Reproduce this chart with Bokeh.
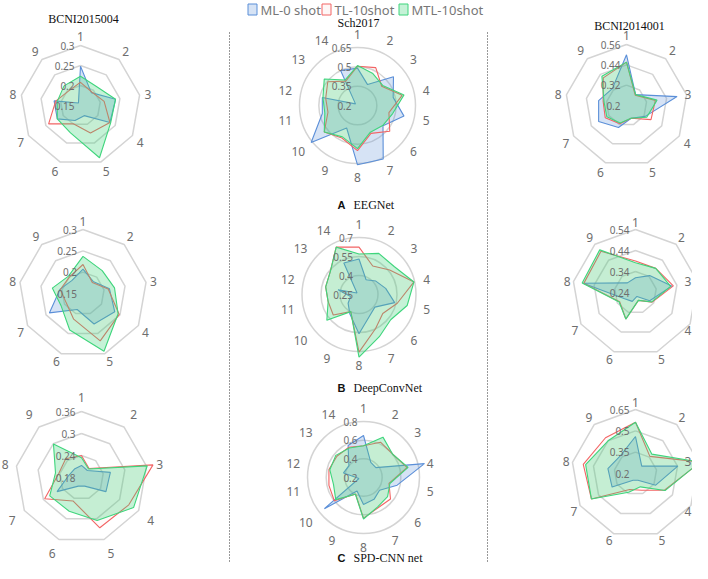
import numpy as np
from bokeh.plotting import figure
from bokeh.models import Range1d
from bokeh.core.properties import value
from bokeh.embed import file_html
from bokeh.resources import INLINE

# ---------------- data ----------------
SERIES = ["ML-0 shot", "TL-10shot", "MTL-10shot"]
DATASETS = ["BCNI2015004", "Sch2017", "BCNI2014001"]
MODEL_LETTERS = ["A", "B", "C"]
MODEL_NAMES = ["EEGNet", "DeepConvNet", "SPD-CNN net"]

AXES_9 = ["1", "2", "3", "4", "5", "6", "7", "8", "9"]
AXES_14 = ["1", "2", "3", "4", "5", "6", "7", "8", "9", "10", "11", "12", "13", "14"]

# EEGNet
ticks_eeg_b15 = [0.15, 0.2, 0.25, 0.3]
eeg_b15_ml = [0.248, 0.192, 0.239, 0.235, 0.177, 0.19, 0.217, 0.217, 0.158]
eeg_b15_tl = [0.208, 0.194, 0.21, 0.235, 0.223, 0.199, 0.242, 0.213, 0.197]
eeg_b15_mtl = [0.223, 0.212, 0.239, 0.237, 0.289, 0.223, 0.217, 0.209, 0.214]

ticks_eeg_sch = [0.2, 0.35, 0.5, 0.65]
eeg_sch_ml = [0.49, 0.38, 0.557, 0.484, 0.57, 0.453, 0.66, 0.66, 0.394, 0.66, 0.48, 0.48, 0.22, 0.5]
eeg_sch_tl = [0.505, 0.526, 0.44, 0.555, 0.45, 0.52, 0.44, 0.55, 0.48, 0.53, 0.435, 0.453, 0.495, 0.41]
eeg_sch_mtl = [0.51, 0.475, 0.45, 0.57, 0.48, 0.45, 0.43, 0.535, 0.47, 0.53, 0.46, 0.475, 0.53, 0.42]

ticks_eeg_b14 = [0.2, 0.32, 0.44, 0.56]
eeg_b14_ml = [0.499, 0.284, 0.503, 0.328, 0.28, 0.338, 0.39, 0.367, 0.33]
eeg_b14_tl = [0.456, 0.28, 0.373, 0.367, 0.28, 0.314, 0.345, 0.34, 0.413]
eeg_b14_mtl = [0.456, 0.284, 0.383, 0.338, 0.28, 0.31, 0.334, 0.335, 0.426]

# DeepConvNet
ticks_dcn_b15 = [0.15, 0.2, 0.25, 0.3]
dcn_b15_ml = [0.207, 0.187, 0.213, 0.236, 0.226, 0.19, 0.241, 0.205, 0.19]
dcn_b15_tl = [0.218, 0.184, 0.21, 0.248, 0.268, 0.214, 0.195, 0.204, 0.2]
dcn_b15_mtl = [0.237, 0.22, 0.225, 0.245, 0.294, 0.241, 0.209, 0.223, 0.203]

ticks_dcn_sch = [0.25, 0.4, 0.55, 0.7]
dcn_sch_ml = [0.53, 0.379, 0.42, 0.466, 0.539, 0.41, 0.44, 0.56, 0.418, 0.36, 0.318, 0.42, 0.27, 0.526]
dcn_sch_tl = [0.624, 0.5, 0.56, 0.695, 0.56, 0.49, 0.55, 0.705, 0.4, 0.51, 0.5, 0.52, 0.54, 0.665]
dcn_sch_mtl = [0.57, 0.61, 0.605, 0.695, 0.64, 0.57, 0.62, 0.745, 0.4, 0.575, 0.5, 0.52, 0.54, 0.665]

ticks_dcn_b14 = [0.24, 0.34, 0.44, 0.54]
dcn_b14_ml = [0.31, 0.345, 0.415, 0.318, 0.26, 0.285, 0.30, 0.493, 0.3]
dcn_b14_tl = [0.39, 0.39, 0.423, 0.332, 0.28, 0.374, 0.327, 0.49, 0.496]
dcn_b14_mtl = [0.382, 0.39, 0.41, 0.33, 0.28, 0.375, 0.33, 0.498, 0.505]

# SPD-CNN net
ticks_spd_b15 = [0.18, 0.24, 0.3, 0.36]
spd_b15_ml = [0.213, 0.205, 0.26, 0.257, 0.205, 0.205, 0.257, 0.215, 0.21]
spd_b15_tl = [0.24, 0.212, 0.378, 0.329, 0.326, 0.248, 0.296, 0.243, 0.247]
spd_b15_mtl = [0.234, 0.21, 0.362, 0.344, 0.305, 0.278, 0.28, 0.252, 0.299]

ticks_spd_sch = [0.2, 0.4, 0.6, 0.8]
spd_sch_ml = [0.65, 0.38, 0.37, 0.87, 0.57, 0.42, 0.46, 0.49, 0.36, 0.736, 0.25, 0.42, 0.4, 0.58]
spd_sch_tl = [0.54, 0.62, 0.6, 0.68, 0.48, 0.57, 0.56, 0.635, 0.396, 0.6, 0.58, 0.58, 0.565, 0.56]
spd_sch_mtl = [0.54, 0.68, 0.6, 0.69, 0.49, 0.53, 0.55, 0.645, 0.4, 0.58, 0.53, 0.57, 0.58, 0.55]

ticks_spd_b14 = [0.2, 0.35, 0.5, 0.65]
spd_b14_ml = [0.46, 0.268, 0.502, 0.364, 0.25, 0.25, 0.39, 0.397, 0.364]
spd_b14_tl = [0.56, 0.357, 0.664, 0.435, 0.325, 0.32, 0.558, 0.573, 0.528]
spd_b14_mtl = [0.56, 0.378, 0.66, 0.44, 0.3, 0.34, 0.558, 0.556, 0.5]

CHARTS = [
    [(AXES_9, ticks_eeg_b15, [eeg_b15_ml, eeg_b15_tl, eeg_b15_mtl]),
     (AXES_14, ticks_eeg_sch, [eeg_sch_ml, eeg_sch_tl, eeg_sch_mtl]),
     (AXES_9, ticks_eeg_b14, [eeg_b14_ml, eeg_b14_tl, eeg_b14_mtl])],
    [(AXES_9, ticks_dcn_b15, [dcn_b15_ml, dcn_b15_tl, dcn_b15_mtl]),
     (AXES_14, ticks_dcn_sch, [dcn_sch_ml, dcn_sch_tl, dcn_sch_mtl]),
     (AXES_9, ticks_dcn_b14, [dcn_b14_ml, dcn_b14_tl, dcn_b14_mtl])],
    [(AXES_9, ticks_spd_b15, [spd_b15_ml, spd_b15_tl, spd_b15_mtl]),
     (AXES_14, ticks_spd_sch, [spd_sch_ml, spd_sch_tl, spd_sch_mtl]),
     (AXES_9, ticks_spd_b14, [spd_b14_ml, spd_b14_tl, spd_b14_mtl])],
]

# ---------------- style / layout ----------------
LINE_COLORS = ["#5b8fd8", "#f26464", "#3fd57c"]
FILL_ALPHA = [0.25, 0.03, 0.3]
RING_COLOR = "#d4d4d4"
TXT = "#6e6e6e"
SANS = value("Noto Sans")
SERIF = value("Liberation Serif")

W, H = 692, 563
# (cx, cy, R, label gap) per chart, in pixels
LAYOUT = [
    [(80, 105, 60, 5), (357, 105, 58, 9), (626, 105, 61, 5)],
    [(82.5, 293, 64, 4), (358.5, 294, 57, 9), (635, 292, 63, 3)],
    [(81, 477, 66, 10), (363, 477, 56, 9), (635, 473, 64, 3)],
]
TITLE_POS = [(83, 18), (358, 22), (629, 25)]
ROW_LABEL_Y = [204, 387, 557]
SEP_X = [229, 487]

p = figure(width=W, height=H, x_range=Range1d(0, W), y_range=Range1d(H, 0),
           output_backend="svg", toolbar_location=None, min_border=0)
p.axis.visible = False
p.grid.visible = False
p.outline_line_color = None
p.background_fill_color = "white"


def radar(cx, cy, R, gap, axes, ticks, series):
    n = len(axes)
    ang = np.deg2rad(90 - 360.0 * np.arange(n) / n)
    ux, uy = np.cos(ang), -np.sin(ang)
    lo, hi = ticks[0], ticks[-1]
    for t in ticks[1:]:
        r = R * (t - lo) / (hi - lo)
        if n > 12:
            p.circle(x=[cx], y=[cy], radius=r, fill_color=None,
                     line_color=RING_COLOR, line_width=1.5)
        else:
            xs = list(cx + r * ux) + [cx + r * ux[0]]
            ys = list(cy + r * uy) + [cy + r * uy[0]]
            p.line(xs, ys, line_color=RING_COLOR, line_width=1.5)
    for vals, col, fa in zip(series, LINE_COLORS, FILL_ALPHA):
        r = R * np.maximum(np.array(vals) - lo, 0) / (hi - lo)
        p.patch(list(cx + r * ux), list(cy + r * uy), fill_color=col, fill_alpha=fa,
                line_color=col, line_width=1.1)
    # tick labels
    p.text(x=[cx - 6] * len(ticks), y=[cy - R * (t - lo) / (hi - lo) for t in ticks],
           text=[f"{t:g}" for t in ticks], text_align="right", text_baseline="middle",
           text_font=SANS, text_font_size="10px", text_color=TXT)
    # axis names
    for i, name in enumerate(axes):
        ax, ay = ux[i], uy[i]
        align = "left" if ax > 0.05 else ("right" if ax < -0.05 else "center")
        base = "bottom" if ay < -0.3 else ("top" if ay > 0.3 else "middle")
        x = cx + (R + gap) * ax
        y = cy + (R + gap) * ay
        tw = 7 * len(name)
        if align == "left" and x + tw > W - 1:
            x = W - 1 - tw
        if align == "right" and x - tw < 1:
            x = 1 + tw
        p.text(x=[x], y=[y], text=[name], text_align=align, text_baseline=base,
               text_font=SANS, text_font_size="12px", text_color=TXT)


for ri in range(3):
    for ci in range(3):
        axes, ticks, series = CHARTS[ri][ci]
        cx, cy, R, gap = LAYOUT[ri][ci]
        radar(cx, cy, R, gap, axes, ticks, series)

# column titles
for (tx, ty), name in zip(TITLE_POS, DATASETS):
    p.text(x=[tx], y=[ty], text=[name], text_align="center", text_baseline="middle",
           text_font=SERIF, text_font_size="12px", text_color="#111111")

# row labels
for y, letter, name in zip(ROW_LABEL_Y, MODEL_LETTERS, MODEL_NAMES):
    p.text(x=[345], y=[y], text=[letter], text_align="right", text_baseline="middle",
           text_font=value("Liberation Sans"), text_font_style="bold",
           text_font_size="11px", text_color="#111111")
    p.text(x=[353], y=[y], text=[name], text_align="left", text_baseline="middle",
           text_font=SERIF, text_font_size="12px", text_color="#111111")

# separators
for sx in SEP_X:
    p.line([sx, sx], [32, H], line_color="#333333", line_width=1, line_dash="1 2")

# legend
LEG_X = [252, 326, 403]
for lx, name, col, fa in zip(LEG_X, SERIES, LINE_COLORS, FILL_ALPHA):
    p.rect(x=[lx], y=[9], width=9, height=11, width_units="screen", height_units="screen",
           fill_color=col, fill_alpha=fa if fa > 0.1 else 0.06, line_color=col, line_width=1)
    p.text(x=[lx + 8], y=[9], text=[name], text_align="left", text_baseline="middle",
           text_font=SANS, text_font_size="13px", text_color="#777777")

open("out.html", "w").write(file_html(p, INLINE))
